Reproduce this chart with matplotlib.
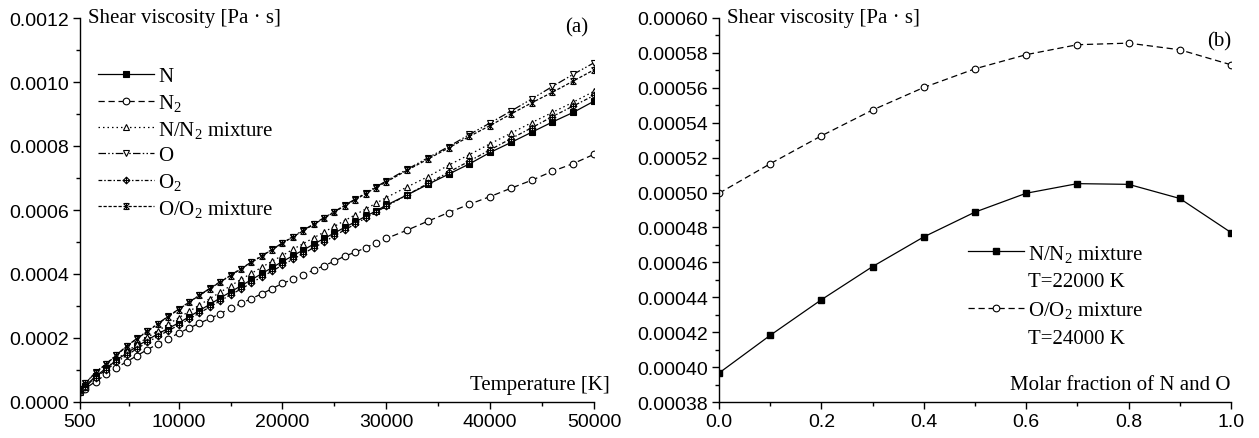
import numpy as np
import matplotlib
matplotlib.use("Agg")
import matplotlib.pyplot as plt
from matplotlib.path import Path
from matplotlib.lines import Line2D
from matplotlib.ticker import MultipleLocator, FixedLocator

plt.rcParams['font.family'] = ['Liberation Sans', 'DejaVu Sans']
plt.rcParams['mathtext.fontset'] = 'custom'
plt.rcParams['mathtext.rm'] = 'Liberation Serif'
plt.rcParams['mathtext.it'] = 'Liberation Serif:italic'

# ---------------- data (panel a), viscosity in 1e-4 Pa s ----------------
T = [500, 1000, 2000, 3000, 4000, 5000, 6000, 7000, 8000, 9000, 10000,
     11000, 12000, 13000, 14000, 15000, 16000, 17000, 18000, 19000, 20000,
     21000, 22000, 23000, 24000, 25000, 26000, 27000, 28000, 29000, 30000,
     32000, 34000, 36000, 38000, 40000, 42000, 44000, 46000, 48000, 50000]

mu_N = [0.35, 0.50, 0.80, 1.05, 1.30, 1.53, 1.74, 1.94, 2.13, 2.30, 2.47,
        2.66, 2.86, 3.05, 3.25, 3.44, 3.63, 3.82, 4.01, 4.20, 4.39,
        4.57, 4.75, 4.93, 5.11, 5.28, 5.46, 5.63, 5.80, 5.97, 6.15,
        6.47, 6.80, 7.12, 7.44, 7.80, 8.11, 8.43, 8.75, 9.05, 9.40]
mu_N2 = [0.30, 0.42, 0.64, 0.86, 1.07, 1.26, 1.45, 1.64, 1.81, 1.98, 2.15,
         2.31, 2.46, 2.61, 2.76, 2.93, 3.08, 3.23, 3.38, 3.54, 3.71,
         3.83, 3.98, 4.12, 4.26, 4.40, 4.56, 4.68, 4.82, 4.97, 5.11,
         5.37, 5.65, 5.92, 6.18, 6.42, 6.68, 6.93, 7.21, 7.45, 7.74]
mu_Nmix = [0.32, 0.46, 0.78, 1.05, 1.32, 1.58, 1.80, 2.02, 2.22, 2.43, 2.63,
           2.83, 3.03, 3.23, 3.43, 3.63, 3.83, 4.02, 4.21, 4.40, 4.58,
           4.77, 4.95, 5.13, 5.31, 5.49, 5.67, 5.85, 6.03, 6.21, 6.39,
           6.72, 7.04, 7.40, 7.73, 8.07, 8.40, 8.73, 9.05, 9.37, 9.71]
mu_O = [0.42, 0.58, 0.93, 1.19, 1.47, 1.75, 1.99, 2.22, 2.45, 2.68, 2.90,
        3.12, 3.34, 3.55, 3.76, 3.96, 4.17, 4.37, 4.57, 4.77, 4.97,
        5.17, 5.37, 5.56, 5.76, 5.95, 6.15, 6.34, 6.53, 6.72, 6.91,
        7.27, 7.63, 7.98, 8.36, 8.72, 9.09, 9.47, 9.86, 10.24, 10.60]
mu_O2 = [0.33, 0.47, 0.76, 1.00, 1.24, 1.46, 1.67, 1.87, 2.05, 2.23, 2.40,
         2.59, 2.78, 2.97, 3.16, 3.35, 3.53, 3.72, 3.91, 4.09, 4.28,
         4.46, 4.64, 4.82, 5.00, 5.19, 5.38, 5.56, 5.75, 5.93, 6.12,
         6.47, 6.83, 7.18, 7.53, 7.88, 8.23, 8.57, 8.92, 9.25, 9.58]
mu_Omix = [0.42, 0.58, 0.92, 1.18, 1.46, 1.74, 1.98, 2.21, 2.44, 2.67, 2.89,
           3.12, 3.33, 3.54, 3.75, 3.95, 4.16, 4.36, 4.56, 4.76, 4.96,
           5.16, 5.35, 5.55, 5.74, 5.94, 6.13, 6.32, 6.51, 6.70, 6.88,
           7.24, 7.59, 7.94, 8.30, 8.64, 9.00, 9.35, 9.68, 10.03, 10.38]

labels_a = ["N", "N$_2$", "N/N$_2$ mixture", "O", "O$_2$", "O/O$_2$ mixture"]

xticks_a = [500, 10000, 20000, 30000, 40000, 50000]
xminor_a = [5250, 15000, 25000, 35000, 45000]
yticks_a = [0.0, 0.0002, 0.0004, 0.0006, 0.0008, 0.0010, 0.0012]

# ---------------- data (panel b) ----------------
frac = [0.0, 0.1, 0.2, 0.3, 0.4, 0.5, 0.6, 0.7, 0.8, 0.9, 1.0]
mu_Nmix_22000 = [0.0003966, 0.0004182, 0.0004386, 0.0004576, 0.0004746, 0.0004888,
                 0.0004996, 0.0005051, 0.0005047, 0.0004966, 0.0004771]
mu_Omix_24000 = [0.0004996, 0.0005165, 0.0005325, 0.0005473, 0.0005602, 0.0005709,
                 0.0005790, 0.0005847, 0.0005856, 0.0005818, 0.0005732]
labels_b = ["N/N$_2$ mixture", "T=22000 K", "O/O$_2$ mixture", "T=24000 K"]
yticks_b = [0.00038 + 0.00002 * i for i in range(12)]
xticks_b = [0.0, 0.2, 0.4, 0.6, 0.8, 1.0]

# ---------------- custom markers ----------------
diamond_plus = Path(
    [(0, 1), (1, 0), (0, -1), (-1, 0), (0, 1), (0, 1), (0, -1), (-1, 0), (1, 0)],
    [Path.MOVETO, Path.LINETO, Path.LINETO, Path.LINETO, Path.CLOSEPOLY,
     Path.MOVETO, Path.LINETO, Path.MOVETO, Path.LINETO])
star_mark = Path(
    [(-1, -1), (1, 1), (-1, 1), (1, -1), (0, 1.1), (0, -1.1), (-0.7, 1), (0.7, 1), (-0.7, -1), (0.7, -1)],
    [Path.MOVETO, Path.LINETO, Path.MOVETO, Path.LINETO, Path.MOVETO, Path.LINETO,
     Path.MOVETO, Path.LINETO, Path.MOVETO, Path.LINETO])

serif = ['Liberation Serif', 'DejaVu Serif']
TXT = 15
TICK = 14
W, H = 1259, 439
fig = plt.figure(figsize=(W / 100, H / 100), dpi=100)

def fx(px):
    return px / W

def fy(py):
    return 1 - py / H

TOP, BOT = 19, 403
axA = fig.add_axes([fx(80), fy(BOT), fx(594 - 80), (BOT - TOP) / H])
axB = fig.add_axes([fx(719), fy(BOT), fx(1231 - 719), (BOT - TOP) / H])

ms = 4.8
lw = 0.9
styles = [
    dict(ls='-', marker='s', mfc='black', mec='black'),
    dict(ls=(0, (5, 3)), marker='o', mfc='white', mec='black'),
    dict(ls=(0, (1.2, 2.4)), marker='^', mfc='white', mec='black'),
    dict(ls=(0, (6, 1.8, 1.2, 1.8, 1.2, 1.8)), marker='v', mfc='white', mec='black'),
    dict(ls=(0, (3, 1.6, 1.2, 1.6)), marker=diamond_plus, mfc='white', mec='black'),
    dict(ls=(0, (2.6, 1.4)), marker=star_mark, mfc='white', mec='black'),
]
series_a = [mu_N, mu_N2, mu_Nmix, mu_O, mu_O2, mu_Omix]
for vals, lab, st in zip(series_a, labels_a, styles):
    y = np.array(vals) * 1e-4
    axA.plot(T, y, color='black', lw=lw, ms=ms, mew=0.8, label=lab, **st)

axA.set_xlim(500, 50000)
axA.set_ylim(0, 0.0012)
axA.xaxis.set_major_locator(FixedLocator(xticks_a))
axA.xaxis.set_minor_locator(FixedLocator(xminor_a))
axA.yaxis.set_major_locator(FixedLocator(yticks_a))
axA.yaxis.set_minor_locator(MultipleLocator(0.0001))
axA.set_xticklabels([str(t) for t in xticks_a])
axA.set_yticklabels([f"{v:.4f}" for v in yticks_a])

axA.legend(loc='upper left', bbox_to_anchor=(0.035, 0.874), frameon=False,
           prop={'family': serif, 'size': TXT}, handlelength=2.7,
           handletextpad=0.2, labelspacing=0.28, borderaxespad=0.0, borderpad=0.0)

axA.text(0.016, 1.0, "Shear viscosity [Pa \u00b7 s]", transform=axA.transAxes,
         ha='left', va='center', family=serif, fontsize=TXT)
axA.text(0.967, 0.977, "(a)", transform=axA.transAxes, ha='center', va='center',
         family=serif, fontsize=TXT)
axA.text(1.03, 0.046, "Temperature [K]", transform=axA.transAxes, ha='right',
         va='center', family=serif, fontsize=TXT, clip_on=False)

lnN, = axB.plot(frac, mu_Nmix_22000, color='black', lw=lw, ls='-', marker='s', ms=ms,
                mfc='black', mec='black')
lnO, = axB.plot(frac, mu_Omix_24000, color='black', lw=lw, ls=(0, (5, 3)), marker='o', ms=ms,
                mfc='white', mec='black', mew=0.8)
blank1 = Line2D([], [], ls='none')
blank2 = Line2D([], [], ls='none')
axB.legend([lnN, blank1, lnO, blank2], labels_b, loc='upper left',
           bbox_to_anchor=(0.486, 0.415), frameon=False,
           prop={'family': serif, 'size': TXT}, handlelength=2.7,
           handletextpad=0.2, labelspacing=0.38, borderaxespad=0.0, borderpad=0.0)

axB.set_xlim(0, 1)
axB.set_ylim(0.00038, 0.00060)
axB.xaxis.set_major_locator(FixedLocator(xticks_b))
axB.xaxis.set_minor_locator(MultipleLocator(0.1))
axB.yaxis.set_major_locator(FixedLocator(yticks_b))
axB.yaxis.set_minor_locator(MultipleLocator(0.00001))
axB.set_xticklabels([f"{v:.1f}" for v in xticks_b])
axB.set_yticklabels([f"{v:.5f}" for v in yticks_b])

axB.text(0.016, 1.0, "Shear viscosity [Pa \u00b7 s]", transform=axB.transAxes,
         ha='left', va='center', family=serif, fontsize=TXT)
axB.text(0.977, 0.940, "(b)", transform=axB.transAxes, ha='center', va='center',
         family=serif, fontsize=TXT)
axB.text(1.0, 0.046, "Molar fraction of N and O", transform=axB.transAxes, ha='right',
         va='center', family=serif, fontsize=TXT)

for ax in (axA, axB):
    ax.spines['top'].set_visible(False)
    ax.spines['right'].set_visible(False)
    for s in ('left', 'bottom'):
        ax.spines[s].set_linewidth(1.0)
    ax.tick_params(which='major', direction='out', length=5, width=1.0,
                   labelsize=TICK, pad=3)
    ax.tick_params(which='minor', direction='out', length=3, width=1.0)

fig.savefig("out.png", dpi=100)
